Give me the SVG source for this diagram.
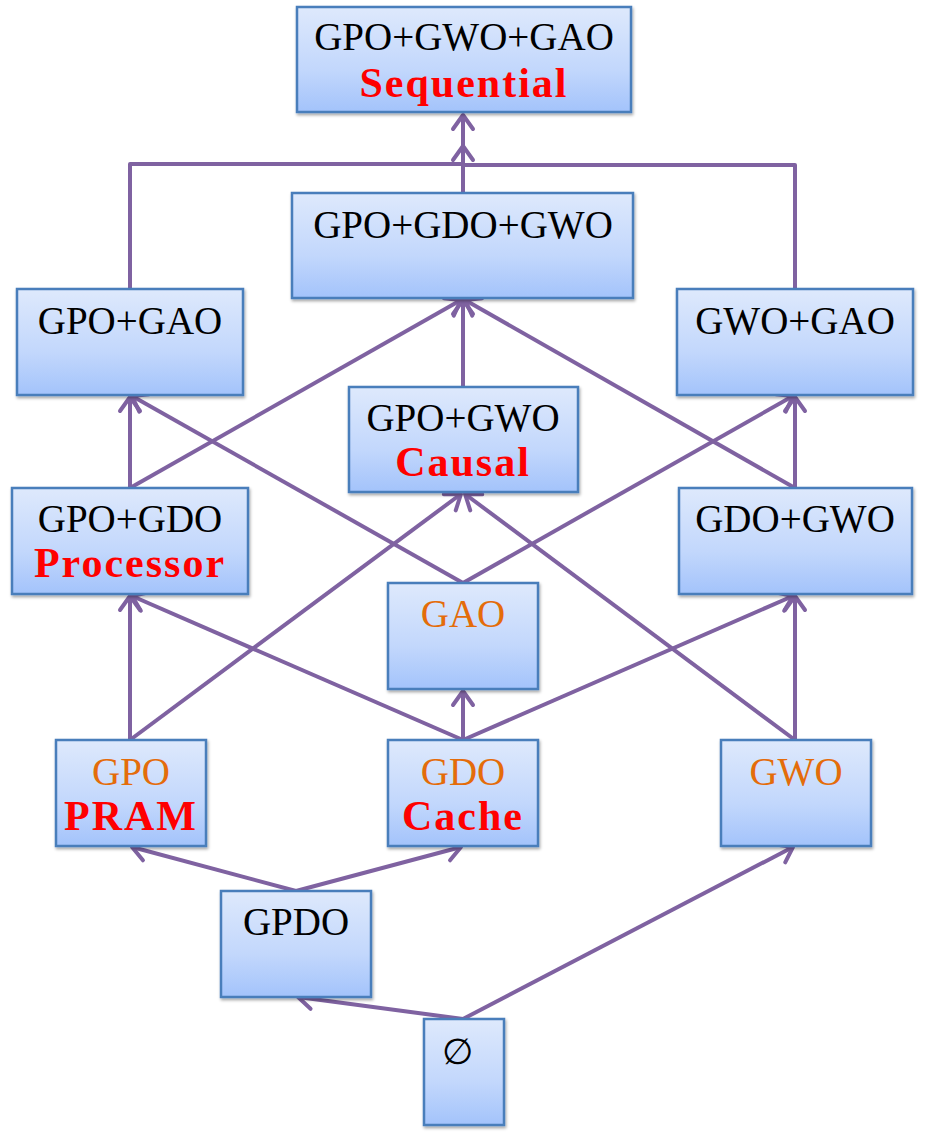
<svg xmlns="http://www.w3.org/2000/svg" width="927" height="1136" viewBox="0 0 927 1136">
<style>
.box{fill:url(#g);stroke:#4A7EBB;stroke-width:2.5;filter:url(#sh)}
.t{font-family:"Liberation Serif","Times New Roman",serif;font-size:39px;text-anchor:middle;fill:#000}
.o{fill:#E46C0A}
.b{font-weight:bold;fill:#FF0000;font-size:42px;letter-spacing:2px}
.c{fill:none;stroke:#7F62A1;stroke-width:4;stroke-linejoin:round}
.a{marker-end:url(#ar)}
</style>
<defs>
<linearGradient id="g" x1="0" y1="0" x2="0" y2="1">
<stop offset="0" stop-color="#DEE9FC"/>
<stop offset="0.6" stop-color="#C2D7FC"/>
<stop offset="1" stop-color="#A3C3FB"/>
</linearGradient>
<filter id="sh" x="-10%" y="-10%" width="120%" height="130%">
<feDropShadow dx="1" dy="2" stdDeviation="1.5" flood-color="#000" flood-opacity="0.35"/>
</filter>
<marker id="ar" markerUnits="userSpaceOnUse" markerWidth="34" markerHeight="34" refX="17" refY="17" orient="auto" viewBox="0 0 34 34">
<path d="M3 7 L17 17 L3 27" fill="none" stroke="#7F62A1" stroke-width="4" stroke-linecap="round" stroke-linejoin="round"/>
</marker>
</defs>
<g id="connectors">
<path class="c a" d="M130 289 V164 H463 V115"/>
<path class="c" d="M795 289 V165 H463"/>
<path class="c a" d="M463 193 V146"/>
<path class="c a" d="M463 387 V300"/>
<path class="c a" d="M130 488 V397"/>
<path class="c a" d="M130 488 L461 300"/>
<path class="c a" d="M463 583 L132 396"/>
<path class="c a" d="M463 583 L793 396"/>
<path class="c a" d="M795 488 V397"/>
<path class="c a" d="M795 488 L465 300"/>
<path class="c a" d="M130 740 V596"/>
<path class="c a" d="M130 740 L461 494"/>
<path class="c a" d="M463 740 L132 596"/>
<path class="c a" d="M463 740 V691"/>
<path class="c a" d="M463 740 L793 596"/>
<path class="c a" d="M795 740 V596"/>
<path class="c a" d="M795 740 L465 494"/>
<path class="c a" d="M296 891 L132 847"/>
<path class="c a" d="M296 891 L461 847"/>
<path class="c a" d="M463 1019 L298 997"/>
<path class="c a" d="M463 1019 L793 847"/>
</g>
<g id="n-seq">
<rect class="box" x="297" y="7" width="334" height="105"/>
<text class="t" x="464" y="50">GPO+GWO+GAO</text>
<text class="t b" x="464" y="97">Sequential</text>
</g>
<g id="n-gpo-gdo-gwo">
<rect class="box" x="292" y="193" width="341" height="105"/>
<text class="t" x="463" y="238">GPO+GDO+GWO</text>
</g>
<g id="n-gpo-gao">
<rect class="box" x="17" y="289" width="226" height="106"/>
<text class="t" x="130" y="334">GPO+GAO</text>
</g>
<g id="n-gwo-gao">
<rect class="box" x="677" y="289" width="236" height="106"/>
<text class="t" x="795" y="334">GWO+GAO</text>
</g>
<g id="n-causal">
<rect class="box" x="349" y="387" width="229" height="105"/>
<text class="t" x="463" y="431">GPO+GWO</text>
<text class="t b" x="463" y="476">Causal</text>
</g>
<g id="n-processor">
<rect class="box" x="12" y="488" width="236" height="106"/>
<text class="t" x="130" y="532">GPO+GDO</text>
<text class="t b" x="130" y="577">Processor</text>
</g>
<g id="n-gdo-gwo">
<rect class="box" x="679" y="488" width="233" height="106"/>
<text class="t" x="795" y="532">GDO+GWO</text>
</g>
<g id="n-gao">
<rect class="box" x="388" y="583" width="150" height="106"/>
<text class="t o" x="463" y="627">GAO</text>
</g>
<g id="n-pram">
<rect class="box" x="56" y="740" width="150" height="106"/>
<text class="t o" x="131" y="785">GPO</text>
<text class="t b" x="131" y="830">PRAM</text>
</g>
<g id="n-cache">
<rect class="box" x="388" y="740" width="150" height="106"/>
<text class="t o" x="463" y="785">GDO</text>
<text class="t b" x="463" y="830">Cache</text>
</g>
<g id="n-gwo">
<rect class="box" x="721" y="740" width="150" height="106"/>
<text class="t o" x="796" y="785">GWO</text>
</g>
<g id="n-gpdo">
<rect class="box" x="221" y="891" width="150" height="106"/>
<text class="t" x="296" y="935">GPDO</text>
</g>
<g id="n-empty">
<rect class="box" x="424" y="1019" width="80" height="106"/>
<text class="t" x="457" y="1064" style="font-size:36px">∅</text>
</g>
</svg>
